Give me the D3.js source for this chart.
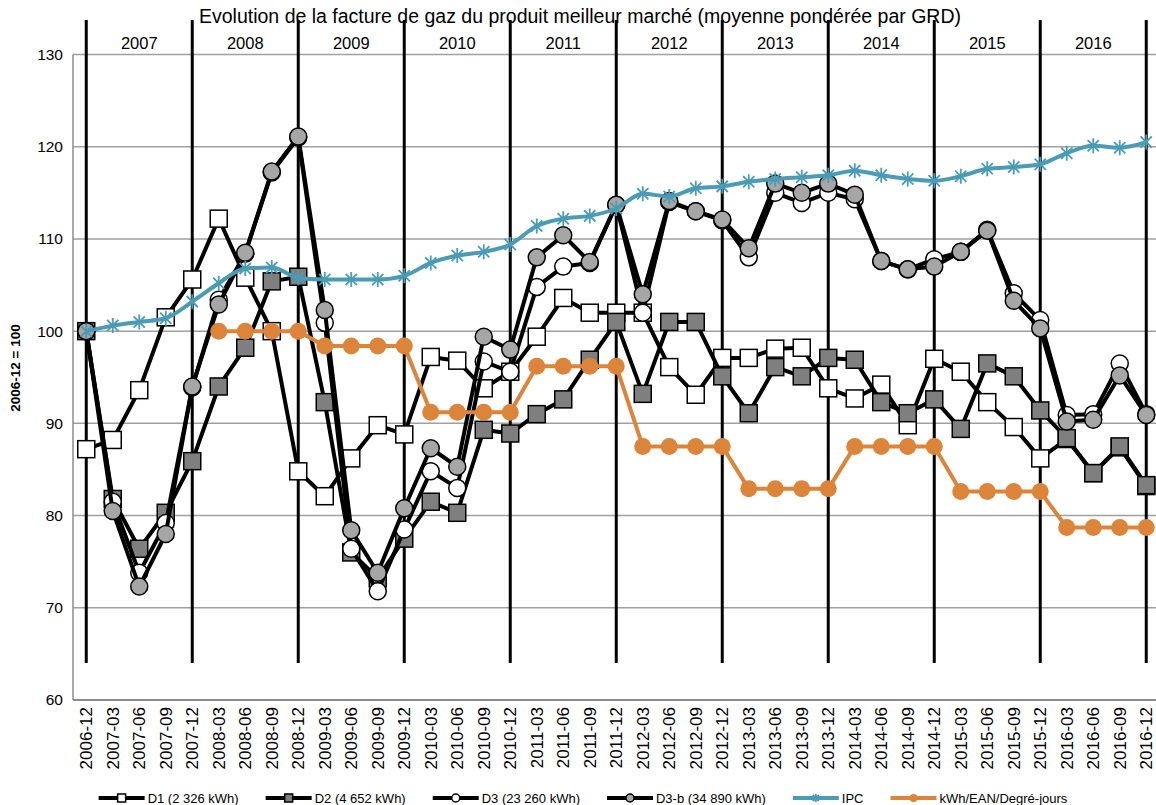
<!DOCTYPE html>
<html>
<head>
<meta charset="utf-8">
<script src="https://cdnjs.cloudflare.com/ajax/libs/d3/7.8.5/d3.min.js"></script>
<style>
  html, body { margin: 0; padding: 0; background: #ffffff; }
  svg { display: block; font-family: "Liberation Sans", Arial, sans-serif; }
</style>
</head>
<body>
<svg id="chart" width="1156" height="805"></svg>
<script>
// ---------------- DATA ----------------
const categories = ["2006-12","2007-03","2007-06","2007-09","2007-12","2008-03","2008-06","2008-09","2008-12",
  "2009-03","2009-06","2009-09","2009-12","2010-03","2010-06","2010-09","2010-12","2011-03","2011-06","2011-09",
  "2011-12","2012-03","2012-06","2012-09","2012-12","2013-03","2013-06","2013-09","2013-12","2014-03","2014-06",
  "2014-09","2014-12","2015-03","2015-06","2015-09","2015-12","2016-03","2016-06","2016-09","2016-12"];

const yearLabels = ["2007","2008","2009","2010","2011","2012","2013","2014","2015","2016"];
const yTicks = [60, 70, 80, 90, 100, 110, 120, 130];

const d1 = [87.2, 88.2, 93.6, 101.5, 105.6, 112.2, 105.8, 100.0, 84.8,
  82.1, 86.2, 89.8, 88.8, 97.2, 96.8, 93.8, 95.6, 99.4, 103.6, 102.0,
  102.0, 102.0, 96.1, 93.1, 97.1, 97.1, 98.1, 98.2, 93.8, 92.7, 94.2,
  89.8, 97.0, 95.6, 92.3, 89.6, 86.2, 88.3, 84.6, 87.4, 83.2];

const d2 = [100.0, 81.8, 76.4, 80.3, 85.9, 94.0, 98.2, 105.4, 105.9,
  92.3, 76.0, 73.2, 77.5, 81.5, 80.3, 89.3, 88.9, 91.0, 92.6, 96.9,
  101.0, 93.2, 101.0, 101.0, 95.1, 91.1, 96.1, 95.1, 97.1, 96.9, 92.3,
  91.1, 92.6, 89.4, 96.5, 95.1, 91.4, 88.4, 84.6, 87.5, 83.3];

const d3v = [100.0, 81.5, 73.8, 79.2, 93.9, 103.4, 108.4, 117.2, 121.0,
  100.9, 76.4, 71.8, 78.5, 84.8, 83.0, 96.7, 95.6, 104.8, 107.0, 107.4,
  113.7, 102.0, 114.0, 113.0, 112.0, 108.0, 115.0, 113.9, 115.0, 114.3, 107.6,
  106.7, 107.8, 108.6, 111.0, 104.1, 101.2, 90.9, 91.0, 96.5, 91.0];

const d3b = [100.0, 80.5, 72.3, 78.0, 94.0, 102.9, 108.5, 117.3, 121.1,
  102.3, 78.4, 73.8, 80.8, 87.3, 85.3, 99.4, 98.0, 108.0, 110.4, 107.5,
  113.7, 104.0, 114.1, 113.0, 112.1, 109.0, 116.0, 115.0, 116.0, 114.8, 107.6,
  106.7, 107.0, 108.6, 110.9, 103.3, 100.3, 90.2, 90.4, 95.2, 90.9];

const ipc = [100.0, 100.6, 101.0, 101.4, 103.2, 105.2, 106.8, 106.9, 105.8,
  105.6, 105.6, 105.6, 106.0, 107.4, 108.2, 108.6, 109.4, 111.4, 112.2, 112.5,
  113.3, 114.9, 114.6, 115.5, 115.7, 116.2, 116.5, 116.7, 116.9, 117.4, 116.9,
  116.5, 116.3, 116.8, 117.6, 117.8, 118.1, 119.3, 120.1, 119.9, 120.5];

const kwh = [null, null, null, null, null, 100.0, 100.0, 100.0, 100.0,
  98.4, 98.4, 98.4, 98.4, 91.2, 91.2, 91.2, 91.2, 96.2, 96.2, 96.2,
  96.2, 87.5, 87.5, 87.5, 87.5, 82.9, 82.9, 82.9, 82.9, 87.5, 87.5,
  87.5, 87.5, 82.6, 82.6, 82.6, 82.6, 78.7, 78.7, 78.7, 78.7];

const seriesNames = ["D1 (2 326 kWh)", "D2 (4 652 kWh)", "D3 (23 260 kWh)", "D3-b (34 890 kWh)", "IPC", "kWh/EAN/Degré-jours"];

// ---------------- STYLE ----------------
const teal = "#4a9bb5";
const orange = "#dc8439";
const series = [
  {name: seriesNames[0], values: d1,  color: "#000", width: 4, marker: "square", fill: "#ffffff"},
  {name: seriesNames[1], values: d2,  color: "#000", width: 4, marker: "square", fill: "#7f7f7f"},
  {name: seriesNames[2], values: d3v, color: "#000", width: 4, marker: "circle", fill: "#ffffff"},
  {name: seriesNames[3], values: d3b, color: "#000", width: 4, marker: "circle", fill: "#a6a6a6"},
  {name: seriesNames[4], values: ipc, color: teal,   width: 4, marker: "star",   fill: "none", curve: true},
  {name: seriesNames[5], values: kwh, color: orange, width: 4, marker: "dot",    fill: orange}
];

const svg = d3.select("#chart");
const plotLeft = 73, plotRight = 1159.5, plotTop = 54.5, plotBottom = 700;

const x = d3.scaleBand().domain(categories).range([plotLeft, plotRight]).padding(0);
const cx = c => x(c) + x.bandwidth() / 2;
const y = d3.scaleLinear().domain([60, 130]).range([plotBottom, plotTop]);

// gridlines
svg.append("g").selectAll("line").data(yTicks.filter(t => t > 60)).join("line")
  .attr("x1", plotLeft).attr("x2", plotRight)
  .attr("y1", d => y(d)).attr("y2", d => y(d))
  .attr("stroke", "#a0a0a0").attr("stroke-width", 1.5);

// axes lines
svg.append("line").attr("x1", plotLeft).attr("x2", plotLeft).attr("y1", plotTop).attr("y2", plotBottom)
  .attr("stroke", "#8c8c8c").attr("stroke-width", 1.5);
svg.append("line").attr("x1", plotLeft).attr("x2", plotRight).attr("y1", plotBottom).attr("y2", plotBottom)
  .attr("stroke", "#8c8c8c").attr("stroke-width", 2);

// y axis labels
const yAxis = d3.axisLeft(y).tickValues(yTicks).tickSize(0).tickPadding(10);
const yg = svg.append("g").attr("transform", `translate(${plotLeft},0)`).call(yAxis);
yg.select(".domain").remove();
yg.selectAll("text").attr("font-size", 15.5).attr("fill", "#000").attr("font-family", "Liberation Sans, Arial, sans-serif");

// y axis title
svg.append("text").attr("transform", `translate(20,368) rotate(-90)`)
  .attr("text-anchor", "middle").attr("font-size", 13.5).attr("font-weight", "bold").text("2006-12 = 100");

// x axis labels
const xAxis = d3.axisBottom(x).tickSize(0).tickPadding(0);
const xg = svg.append("g").attr("transform", `translate(0,${plotBottom})`).call(xAxis);
xg.select(".domain").remove();
xg.selectAll("text")
  .attr("font-size", 17).attr("fill", "#000").attr("font-family", "Liberation Sans, Arial, sans-serif")
  .attr("text-anchor", "end")
  .attr("transform", "translate(0,7) rotate(-90)")
  .attr("x", 0).attr("y", 0).attr("dy", "0.36em");

// year separator lines
const decCats = categories.filter(c => c.endsWith("-12"));
svg.append("g").selectAll("line").data(decCats).join("line")
  .attr("x1", d => cx(d)).attr("x2", d => cx(d))
  .attr("y1", 20).attr("y2", y(64))
  .attr("stroke", "#000").attr("stroke-width", 3);

// year labels
svg.append("g").selectAll("text").data(yearLabels).join("text")
  .attr("x", (d, i) => (cx(decCats[i]) + cx(decCats[i + 1])) / 2)
  .attr("y", 49).attr("text-anchor", "middle").attr("font-size", 16.5).text(d => d);

// title
svg.append("text").attr("x", 580).attr("y", 23).attr("text-anchor", "middle").attr("font-size", 19.5)
  .text("Evolution de la facture de gaz du produit meilleur marché (moyenne pondérée par GRD)");

// marker drawing
function drawMarker(g, s, px, py, size) {
  const h = size / 2;
  if (s.marker === "square") {
    g.append("rect").attr("x", px - h).attr("y", py - h).attr("width", size).attr("height", size)
      .attr("fill", s.fill).attr("stroke", "#000").attr("stroke-width", 1.5);
  } else if (s.marker === "circle") {
    g.append("circle").attr("cx", px).attr("cy", py).attr("r", h)
      .attr("fill", s.fill).attr("stroke", "#000").attr("stroke-width", 1.5);
  } else if (s.marker === "dot") {
    g.append("circle").attr("cx", px).attr("cy", py).attr("r", h).attr("fill", s.fill);
  } else if (s.marker === "star") {
    const d = h * 0.75;
    g.append("path")
      .attr("d", `M${px - d},${py - d}L${px + d},${py + d}M${px - d},${py + d}L${px + d},${py - d}M${px},${py - h}L${px},${py + h}`)
      .attr("stroke", s.color).attr("stroke-width", 1.8).attr("fill", "none");
  }
}

// series
series.forEach(s => {
  const g = svg.append("g");
  const pts = categories.map((c, i) => ({c, v: s.values[i]}));
  const line = d3.line().defined(d => d.v !== null).x(d => cx(d.c)).y(d => y(d.v))
    .curve(s.curve ? d3.curveMonotoneX : d3.curveLinear);
  g.append("path").datum(pts).attr("d", line).attr("fill", "none")
    .attr("stroke", s.color).attr("stroke-width", s.width).attr("stroke-linejoin", "round");
  pts.filter(d => d.v !== null).forEach(d => drawMarker(g, s, cx(d.c), y(d.v), s.marker === "star" ? 15 : 17));
});

// legend
const legY = 798;
const leg = svg.append("g");
const items = series.map(s => {
  const t = leg.append("text").attr("font-size", 13).attr("y", legY + 4.5).text(s.name);
  return {s, t, w: t.node().getComputedTextLength()};
});
const lineLen = 46, gapLT = 3, gapItem = 27;
const total = d3.sum(items, d => lineLen + gapLT + d.w) + gapItem * (items.length - 1);
let lx = 583 - total / 2;
items.forEach(it => {
  leg.append("line").attr("x1", lx).attr("x2", lx + lineLen).attr("y1", legY).attr("y2", legY)
    .attr("stroke", it.s.color).attr("stroke-width", 4);
  drawMarker(leg, it.s, lx + lineLen / 2, legY, 8);
  it.t.attr("x", lx + lineLen + gapLT);
  lx += lineLen + gapLT + it.w + gapItem;
});
</script>
</body>
</html>
